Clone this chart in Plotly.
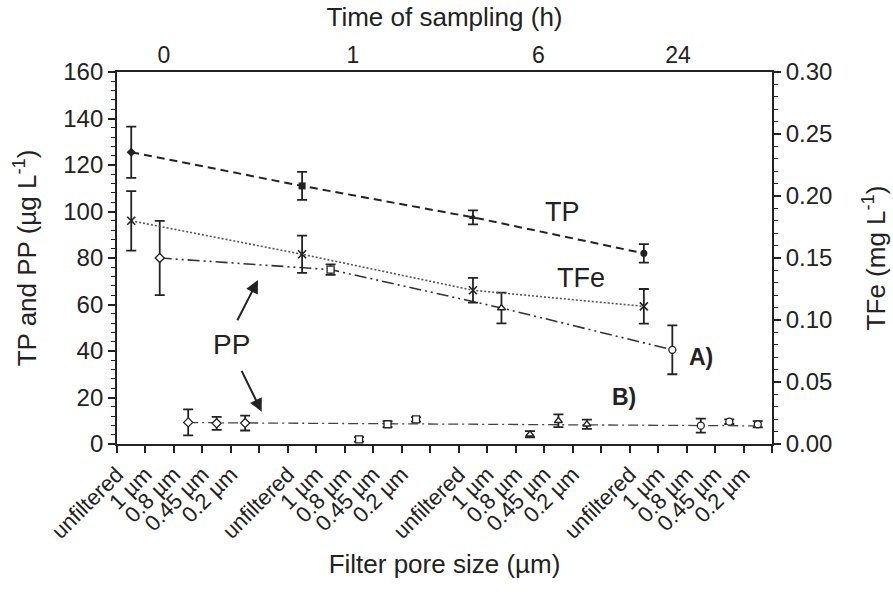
import plotly.graph_objects as go

# ---- data ----
x_labels = ["unfiltered", "1 µm", "0.8 µm", "0.45 µm", "0.2 µm",
            "unfiltered", "1 µm", "0.8 µm", "0.45 µm", "0.2 µm",
            "unfiltered", "1 µm", "0.8 µm", "0.45 µm", "0.2 µm",
            "unfiltered", "1 µm", "0.8 µm", "0.45 µm", "0.2 µm"]
x_label_pos = [0, 1, 2, 3, 4, 6, 7, 8, 9, 10, 12, 13, 14, 15, 16, 18, 19, 20, 21, 22]

time_labels = ["0", "1", "6", "24"]
time_pos = [1.65, 8.28, 14.8, 19.7]

tp_x = [0.5, 6.5, 12.5, 18.5]
tp_y = [125.5, 111.0, 97.5, 82.0]
tp_err = [11.0, 6.0, 3.0, 4.0]
tp_sym = ["diamond", "square", "triangle-up", "circle"]

tfe_x = [0.5, 6.5, 12.5, 18.5]
tfe_y = [0.180, 0.153, 0.124, 0.111]
tfe_err = [0.024, 0.015, 0.010, 0.014]

ppa_x = [1.5, 7.5, 13.5, 19.5]
ppa_y = [80.0, 75.0, 58.5, 40.5]
ppa_err = [16.0, 2.3, 6.6, 10.5]
ppa_sym = ["diamond", "square", "triangle-up", "circle"]

ppb_x = [2.5, 3.5, 4.5, 8.5, 9.5, 10.5, 14.5, 15.5, 16.5, 20.5, 21.5, 22.5]
ppb_y = [9.3, 8.9, 9.0, 2.0, 8.5, 10.6, 4.2, 10.0, 8.5, 7.9, 9.6, 8.5]
ppb_err = [5.6, 2.8, 3.2, 1.0, 1.2, 1.0, 1.3, 2.7, 2.0, 3.0, 1.0, 1.3]
ppb_sym = ["diamond"] * 3 + ["square"] * 3 + ["triangle-up"] * 3 + ["circle"] * 3

ppb_trend_x = [2.5, 22.5]
ppb_trend_y = [9.2, 7.8]

FONT = "Liberation Sans, Arial, sans-serif"
INK = "#222222"

fig = go.Figure()

def ebar(arr):
    return dict(type="data", array=arr, visible=True, color=INK, thickness=1.8, width=5)

# PP B trend line
fig.add_trace(go.Scatter(x=ppb_trend_x, y=ppb_trend_y, mode="lines",
                         line=dict(color="#444444", width=1.3, dash="10px,4px,2px,4px"),
                         showlegend=False, hoverinfo="skip"))
# PP B points
fig.add_trace(go.Scatter(x=ppb_x, y=ppb_y, mode="markers", error_y=ebar(ppb_err),
                         marker=dict(symbol=ppb_sym, size=7, color="white",
                                     line=dict(color=INK, width=1.3)),
                         showlegend=False))
# TFe (right axis)
fig.add_trace(go.Scatter(x=tfe_x, y=tfe_y, mode="lines+markers", yaxis="y2",
                         error_y=ebar(tfe_err),
                         line=dict(color="#555555", width=1.6, dash="2px,2px"),
                         marker=dict(symbol="x-thin", size=8, line=dict(color=INK, width=1.6), color=INK),
                         showlegend=False))
# PP A
fig.add_trace(go.Scatter(x=ppa_x, y=ppa_y, mode="lines+markers", error_y=ebar(ppa_err),
                         line=dict(color="#333333", width=1.6, dash="12px,4px,2px,4px,2px,4px"),
                         marker=dict(symbol=ppa_sym, size=7, color="white",
                                     line=dict(color=INK, width=1.3)),
                         showlegend=False))
# TP
fig.add_trace(go.Scatter(x=tp_x, y=tp_y, mode="lines+markers", error_y=ebar(tp_err),
                         line=dict(color="#222222", width=2, dash="8px,5px"),
                         marker=dict(symbol=tp_sym, size=7, color=INK),
                         showlegend=False))
# invisible trace for top axis
fig.add_trace(go.Scatter(x=[time_pos[0]], y=[None], xaxis="x2", showlegend=False, hoverinfo="skip"))

annos = [
    (15.65, 99.8, "TP", 27),
    (16.3, 71.3, "TFe", 27),
    (4.02, 42.6, "PP", 28),
    (20.5, 37.3, "<b>A)</b>", 23),
    (17.8, 20.1, "<b>B)</b>", 23),
]
annotations = []
for (ax_, ay_, txt, sz) in annos:
    annotations.append(dict(xref="x", yref="y", showarrow=False,
                            font=dict(family=FONT, color=INK, size=sz),
                            x=ax_, y=ay_, text=txt))
# arrows
for (tx, ty, hx, hy) in [(4.2, 52.6, 4.95, 70.5), (4.35, 32.1, 5.08, 13.9)]:
    annotations.append(dict(xref="x", yref="y", axref="x", ayref="y", x=hx, y=hy, ax=tx, ay=ty,
                            text="", showarrow=True, arrowhead=2, arrowsize=1.3,
                            arrowwidth=2, arrowcolor=INK))

fig.update_layout(
    width=893, height=593,
    margin=dict(l=117, r=121, t=72, b=149, autoexpand=False),
    paper_bgcolor="white", plot_bgcolor="white",
    font=dict(family=FONT, color=INK, size=22),
    annotations=annotations,
    xaxis=dict(range=[0, 23], tickmode="array", tickvals=x_label_pos, ticktext=x_labels,
               tickangle=-45, ticks="outside", ticklen=7, tickwidth=1.6, tickcolor=INK,
               minor=dict(tick0=0, dtick=1, ticks="outside", ticklen=7, tickwidth=1.6, tickcolor=INK),
               showline=True, linecolor=INK, linewidth=1.8, mirror=True, automargin=False,
               showgrid=False, zeroline=False, tickfont=dict(size=22),
               title=dict(text="Filter pore size (µm)", font=dict(size=26), standoff=12)),
    xaxis2=dict(range=[0, 23], overlaying="x", side="top", tickmode="array",
                tickvals=time_pos, ticktext=time_labels, ticks="", showline=False,
                showgrid=False, zeroline=False, tickfont=dict(size=23), automargin=False,
                ticklabelstandoff=3,
                title=dict(text="Time of sampling (h)", font=dict(size=26), standoff=8)),
    yaxis=dict(range=[0, 160], tickmode="linear", tick0=0, dtick=20,
               ticks="outside", ticklen=7, tickwidth=1.6, tickcolor=INK,
               minor=dict(dtick=4, ticks="outside", ticklen=4, tickwidth=1.2, tickcolor=INK),
               showline=True, linecolor=INK, linewidth=1.8, showgrid=False, zeroline=False,
               tickfont=dict(size=24), automargin=False,
               title=dict(text="TP and PP (µg L<sup>-1</sup>)", font=dict(size=26), standoff=19)),
    yaxis2=dict(range=[0, 0.30], overlaying="y", side="right", tickmode="linear", tick0=0,
                dtick=0.05, tickformat=".2f",
                ticks="outside", ticklen=7, tickwidth=1.6, tickcolor=INK,
                minor=dict(dtick=0.01, ticks="outside", ticklen=4, tickwidth=1.2, tickcolor=INK),
                showline=True, linecolor=INK, linewidth=1.8, showgrid=False, zeroline=False,
                tickfont=dict(size=24), automargin=False,
                title=dict(text="TFe (mg L<sup>-1</sup>)", font=dict(size=26), standoff=35)),
)

fig.write_html("out.html")
